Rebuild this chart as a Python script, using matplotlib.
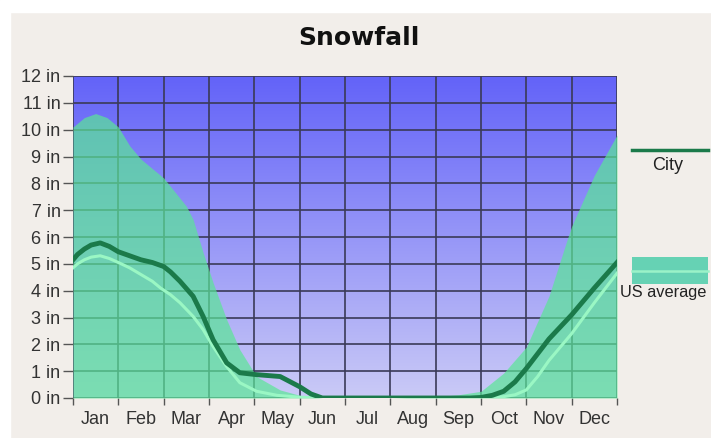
import numpy as np
import matplotlib
matplotlib.use("Agg")
import matplotlib.pyplot as plt
from matplotlib.lines import Line2D
from matplotlib.patches import Rectangle

# month labels, centred in each month cell
months = ["Jan", "Feb", "Mar", "Apr", "May", "Jun",
          "Jul", "Aug", "Sep", "Oct", "Nov", "Dec"]
y_labels = ["%d in" % i for i in range(13)]

# city snowfall curve (x in months from start of Jan, y in inches)
city_x = [0, 0.1, 0.25, 0.4, 0.6, 0.8, 1, 1.25, 1.5, 1.75, 2, 2.15, 2.36, 2.65, 2.87, 3.09,
          3.39, 3.68, 4.05, 4.57, 5, 5.25, 5.5, 6, 7, 8, 8.75, 9, 9.25, 9.5, 9.75, 10, 10.25,
          10.5, 10.75, 11, 11.5, 12]
city_y = [5.15, 5.35, 5.55, 5.7, 5.78, 5.65, 5.45, 5.3, 5.15, 5.05, 4.9, 4.7, 4.35, 3.79, 3.04,
          2.17, 1.31, 0.94, 0.87, 0.8, 0.42, 0.15, 0.0, 0, 0, 0, 0, 0.02, 0.1, 0.25, 0.6, 1.1,
          1.65, 2.2, 2.65, 3.1, 4.1, 5.05]

# US average line
us_x = [0, 0.1, 0.25, 0.4, 0.6, 0.8, 1, 1.25, 1.5, 1.75, 1.93, 2.15, 2.36, 2.65, 2.87, 3.09,
        3.39, 3.68, 4.05, 4.5, 5, 5.5, 6, 7, 8, 9, 9.5, 9.75, 10, 10.25, 10.5, 10.75, 11, 11.5, 12]
us_y = [4.85, 5.0, 5.15, 5.25, 5.3, 5.2, 5.05, 4.85, 4.6, 4.35, 4.1, 3.85, 3.55, 3.04, 2.55, 1.92,
        1.17, 0.57, 0.25, 0.1, 0.03, 0, 0, 0, 0, 0, 0.05, 0.12, 0.3, 0.8, 1.4, 1.9, 2.4, 3.55, 4.65]

# US average band (upper edge of filled area)
band_x = [0, 0.25, 0.5, 0.75, 1, 1.25, 1.5, 2, 2.5, 2.65, 2.87, 3.09, 3.39, 3.68, 4.05, 4.57,
          5, 5.5, 6, 7, 8, 8.5, 9, 9.5, 10, 10.5, 10.9, 11, 11.5, 12]
band_y = [10.1, 10.45, 10.6, 10.45, 10.1, 9.4, 8.9, 8.2, 7.15, 6.65, 5.42, 4.3, 2.92, 1.8, 0.8, 0.3,
          0.1, 0, 0, 0, 0.05, 0.12, 0.25, 0.93, 1.9, 3.8, 5.9, 6.4, 8.3, 9.8]

fig = plt.figure(figsize=(7.11, 4.38), dpi=100, facecolor="#f2eeea")
# white strips on top and left edges
fig.add_artist(Rectangle((0, 1 - 12 / 438), 1, 12 / 438, transform=fig.transFigure,
                         color="white", zorder=0))
fig.add_artist(Rectangle((0, 0), 10 / 711, 1, transform=fig.transFigure,
                         color="white", zorder=0))

ax = fig.add_axes([73 / 711, 1 - 398 / 438, 544 / 711, 322 / 438])
ax.set_xlim(0, 12)
ax.set_ylim(0, 12)

# blue gradient background
top = np.array([99, 99, 249]) / 255
bottom = np.array([202, 202, 246]) / 255
t = np.linspace(0, 1, 256)[:, None]
grad = top * (1 - t) + bottom * t
ax.imshow(grad[:, None, :], extent=[0, 12, 0, 12], aspect="auto", zorder=0)

for v in range(13):
    ax.axhline(v, color="#3a3a58", lw=1.2, zorder=1)
    ax.axvline(v, color="#3a3a58", lw=1.2, zorder=1)

ax.fill_between(band_x, 0, band_y, color=(90 / 255, 230 / 255, 150 / 255), alpha=0.7,
                lw=0, zorder=2)
ax.plot(us_x, us_y, color="#9af7c4", lw=2.2, zorder=3, solid_joinstyle="round")
ax.plot(city_x, city_y, color="#1b7a4a", lw=3.5, zorder=4, solid_joinstyle="round")

for s in ax.spines.values():
    s.set_visible(False)

ax.set_xticks(range(13))
ax.set_xticklabels([])
ax.set_xticks(np.arange(12) + 0.5, minor=True)
ax.set_xticklabels(months, minor=True)
ax.tick_params(axis="x", which="major", length=5, width=1, color="#555555")
ax.tick_params(axis="x", which="minor", length=0, pad=9, labelsize=13, labelcolor="#333333")
ax.set_yticks(range(13))
ax.set_yticklabels(y_labels)
ax.tick_params(axis="y", length=7, width=1, color="#555555", pad=2,
               labelsize=13, labelcolor="#333333")
for lab in ax.get_xticklabels(minor=True) + ax.get_yticklabels():
    lab.set_family("Liberation Sans")

fig.text(359 / 711, 1 - 38 / 438, "Snowfall", ha="center", va="center",
         fontsize=18, fontweight="bold", color="#111111")

# legend drawn by hand on the right
fig.add_artist(Line2D([632 / 711, 708 / 711], [1 - 150 / 438] * 2, color="#1b7a4a",
                      lw=2.5, transform=fig.transFigure))
fig.text(668 / 711, 1 - 165 / 438, "City", ha="center", va="center", fontsize=13,
         family="Liberation Sans", color="#222222")
fig.add_artist(Rectangle((632 / 711, 1 - 284 / 438), 76 / 711, 27 / 438,
                         transform=fig.transFigure, color="#66d2b4", lw=0))
fig.add_artist(Line2D([632 / 711, 708 / 711], [1 - 271 / 438] * 2, color="#9af2c8",
                      lw=1.8, transform=fig.transFigure))
fig.text(620 / 711, 1 - 292 / 438, "US average", ha="left", va="center", fontsize=11.8,
         family="Liberation Sans", color="#222222")

fig.savefig("out.png", dpi=100, facecolor=fig.get_facecolor())
